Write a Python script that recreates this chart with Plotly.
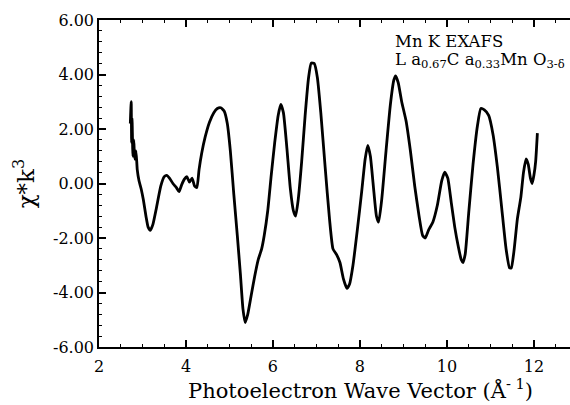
import plotly.graph_objects as go

k = [2.72, 2.74, 2.75, 2.76, 2.78, 2.80, 2.82, 2.85, 2.88, 2.92, 2.97, 3.02, 3.08, 3.13, 3.18,
     3.24, 3.32, 3.42, 3.50, 3.56, 3.62, 3.70, 3.78, 3.84, 3.90, 3.96, 4.02, 4.08, 4.14, 4.20,
     4.25, 4.30, 4.36, 4.44, 4.54, 4.64, 4.72, 4.80, 4.88, 4.95, 5.02, 5.10, 5.18, 5.25, 5.31,
     5.36, 5.42, 5.50, 5.58, 5.66, 5.74, 5.80, 5.88, 5.96, 6.04, 6.12, 6.18, 6.24, 6.32, 6.40,
     6.47, 6.52, 6.58, 6.66, 6.74, 6.82, 6.88, 6.95, 7.02, 7.10, 7.20, 7.30, 7.38, 7.46, 7.54,
     7.62, 7.70, 7.76, 7.84, 7.94, 8.04, 8.12, 8.18, 8.24, 8.32, 8.38, 8.43, 8.50, 8.60, 8.70,
     8.78, 8.82, 8.88, 8.96, 9.06, 9.16, 9.26, 9.36, 9.44, 9.50, 9.58, 9.68, 9.78, 9.88, 9.95,
     10.02, 10.10, 10.18, 10.26, 10.33, 10.37, 10.42, 10.50, 10.60, 10.70, 10.78, 10.86, 10.96,
     11.06, 11.16, 11.26, 11.36, 11.44, 11.48, 11.54, 11.62, 11.70, 11.76, 11.82, 11.87, 11.92,
     11.96, 12.00, 12.04, 12.08]

chi_k3 = [2.2, 3.0, 1.5, 2.4, 1.0, 1.6, 0.9, 1.2, 0.5, 0.1, -0.2, -0.6, -1.2, -1.6, -1.72,
          -1.5, -0.9, -0.1, 0.25, 0.3, 0.2, 0.0, -0.15, -0.3, -0.05, 0.15, 0.25, 0.05, 0.2, -0.1,
          -0.15, 0.5, 1.1, 1.7, 2.25, 2.6, 2.75, 2.78, 2.65, 2.2, 1.2, -0.4, -1.9, -3.3, -4.6,
          -5.1, -4.8, -4.1, -3.4, -2.8, -2.4, -1.9, -1.0, 0.3, 1.5, 2.5, 2.9, 2.6, 1.3, -0.2,
          -1.0, -1.2, -0.6, 0.8, 2.5, 3.9, 4.42, 4.4, 3.9, 2.6, 0.6, -1.3, -2.4, -2.6, -2.9,
          -3.5, -3.85, -3.7, -3.0, -1.7, -0.3, 0.9, 1.4, 1.0, -0.3, -1.2, -1.42, -0.6, 1.2, 2.9,
          3.8, 3.95, 3.7, 3.0, 2.3, 1.2, -0.1, -1.2, -1.9, -2.0, -1.7, -1.4, -0.8, 0.1, 0.42,
          0.2, -0.7, -1.6, -2.3, -2.8, -2.9, -2.6, -1.1, 0.7, 2.1, 2.75, 2.7, 2.5,
          1.8, 0.6, -0.9, -2.4, -3.1, -3.1, -2.5, -1.3, -0.5, 0.4, 0.9, 0.7, 0.2,
          0.0, 0.3, 0.8, 1.85]

y_ticks = [-6, -4, -2, 0, 2, 4, 6]
y_tick_labels = ["-6.00", "-4.00", "-2.00", "0.00", "2.00", "4.00", "6.00"]
x_ticks = [2, 4, 6, 8, 10, 12]

FONT = "DejaVu Serif"

fig = go.Figure()
fig.add_trace(go.Scatter(x=k, y=chi_k3, mode="lines",
                         line=dict(color="black", width=2.8, shape="spline", smoothing=0.5),
                         showlegend=False))

fig.update_layout(
    width=570, height=405,
    margin=dict(l=99, r=0, t=20, b=58),
    paper_bgcolor="white", plot_bgcolor="white",
    font=dict(family=FONT, color="black", size=16),
    xaxis=dict(range=[2, 12.83], tickmode="array", tickvals=x_ticks,
               ticks="inside", ticklen=7, tickwidth=1.5, tickcolor="black",
               showline=True, linecolor="black", linewidth=1.5, mirror="ticks",
               showgrid=False, zeroline=False, ticklabelstandoff=4,
               minor=dict(dtick=0.5, ticks="inside", ticklen=3, tickcolor="black", tickwidth=1.2),
               tickfont=dict(size=16, family=FONT)),
    yaxis=dict(range=[-6, 6], tickmode="array", tickvals=y_ticks, ticktext=y_tick_labels,
               ticks="inside", ticklen=7, tickwidth=1.5, tickcolor="black",
               showline=True, linecolor="black", linewidth=1.5,
               showgrid=False, zeroline=False,
               minor=dict(dtick=0.4, ticks="inside", ticklen=3, tickcolor="black", tickwidth=1.2),
               tickfont=dict(size=16, family=FONT),
               title=dict(text="χ*k<sup>3</sup>", font=dict(size=23, family=FONT), standoff=12)),
)

# x-axis title (placed as annotation to match reference centering)
fig.add_annotation(x=0.556, y=-0.178, xref="paper", yref="paper",
                   text="Photoelectron Wave Vector (Å<sup>- 1</sup>)",
                   showarrow=False, xanchor="center", yanchor="bottom",
                   font=dict(size=21, family=FONT))

fig.add_annotation(x=8.77, y=5.2, xref="x", yref="y", text="Mn K EXAFS",
                   showarrow=False, xanchor="left", yanchor="middle",
                   font=dict(size=16.5, family=FONT))
fig.add_annotation(x=8.77, y=4.52, xref="x", yref="y",
                   text="L a<sub>0.67</sub>C a<sub>0.33</sub>Mn O<sub>3-δ</sub>",
                   showarrow=False, xanchor="left", yanchor="middle",
                   font=dict(size=16.5, family=FONT))

fig.write_html("out.html")
